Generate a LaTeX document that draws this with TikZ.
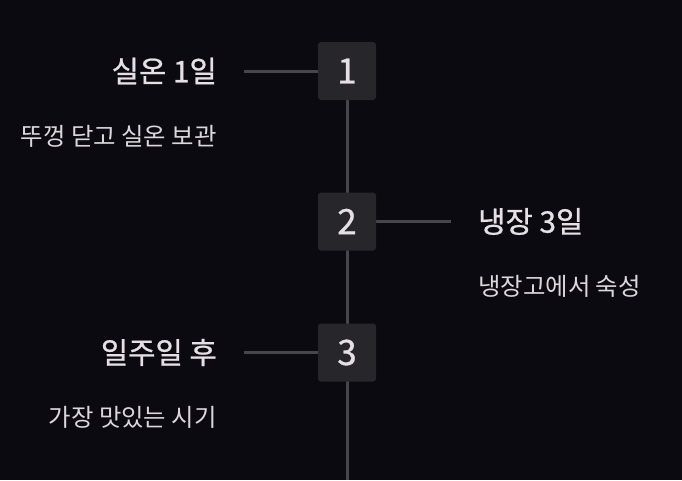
\documentclass[tikz,border=0pt]{standalone}
\usepackage{fontspec}
\newfontfamily\kr{Noto Sans CJK KR}
\newfontfamily\krm{Noto Sans CJK KR}[FakeBold=0.8]
\definecolor{bg}{HTML}{0B0A10}
\definecolor{boxfill}{HTML}{27262B}
\definecolor{linec}{HTML}{47464C}
\definecolor{txt}{HTML}{E6E0E6}
\definecolor{subtxt}{HTML}{DCD7DC}
\begin{document}
\begin{tikzpicture}[x=1pt,y=-1pt,
  stepbox/.style={draw=none,fill=boxfill,rounded corners=3pt,minimum width=58pt,minimum height=58pt,inner sep=0pt,text=txt,font=\krm\fontsize{35}{35}\selectfont},
  conn/.style={draw=linec,line width=3pt},
  ttl/.style={text=txt,font=\krm\fontsize{29.7}{29.7}\selectfont,inner sep=0pt},
  sub/.style={text=subtxt,font=\kr\fontsize{24.4}{24.4}\selectfont,inner sep=0pt}]
\fill[bg] (0,0) rectangle (682,480);
\useasboundingbox (0,0) rectangle (682,480);
\coordinate (bot) at (347,480);
\coordinate (e1) at (244,71);
\coordinate (e2) at (451,221.5);
\coordinate (e3) at (244,352.5);
\draw[conn] (347,100) -- (bot);
\draw[conn] (e1) -- (318,71);
\draw[conn] (376,221.5) -- (e2);
\draw[conn] (e3) -- (318,352.5);
\node[stepbox] (b1) at (347,71) {1};
\node[stepbox] (b2) at (347,221.5) {2};
\node[stepbox] (b3) at (347,352.5) {3};
\node[ttl,anchor=east] (t1) at (217,71) {실온 1일};
\node[sub,anchor=east] (s1) at (217,136) {뚜껑 닫고 실온 보관};
\node[ttl,anchor=west] (t2) at (478,221.5) {냉장 3일};
\node[sub,anchor=west] (s2) at (478,286) {냉장고에서 숙성};
\node[ttl,anchor=east] (t3) at (217,352.5) {일주일 후};
\node[sub,anchor=east] (s3) at (217,417) {가장 맛있는 시기};
\end{tikzpicture}
\end{document}
